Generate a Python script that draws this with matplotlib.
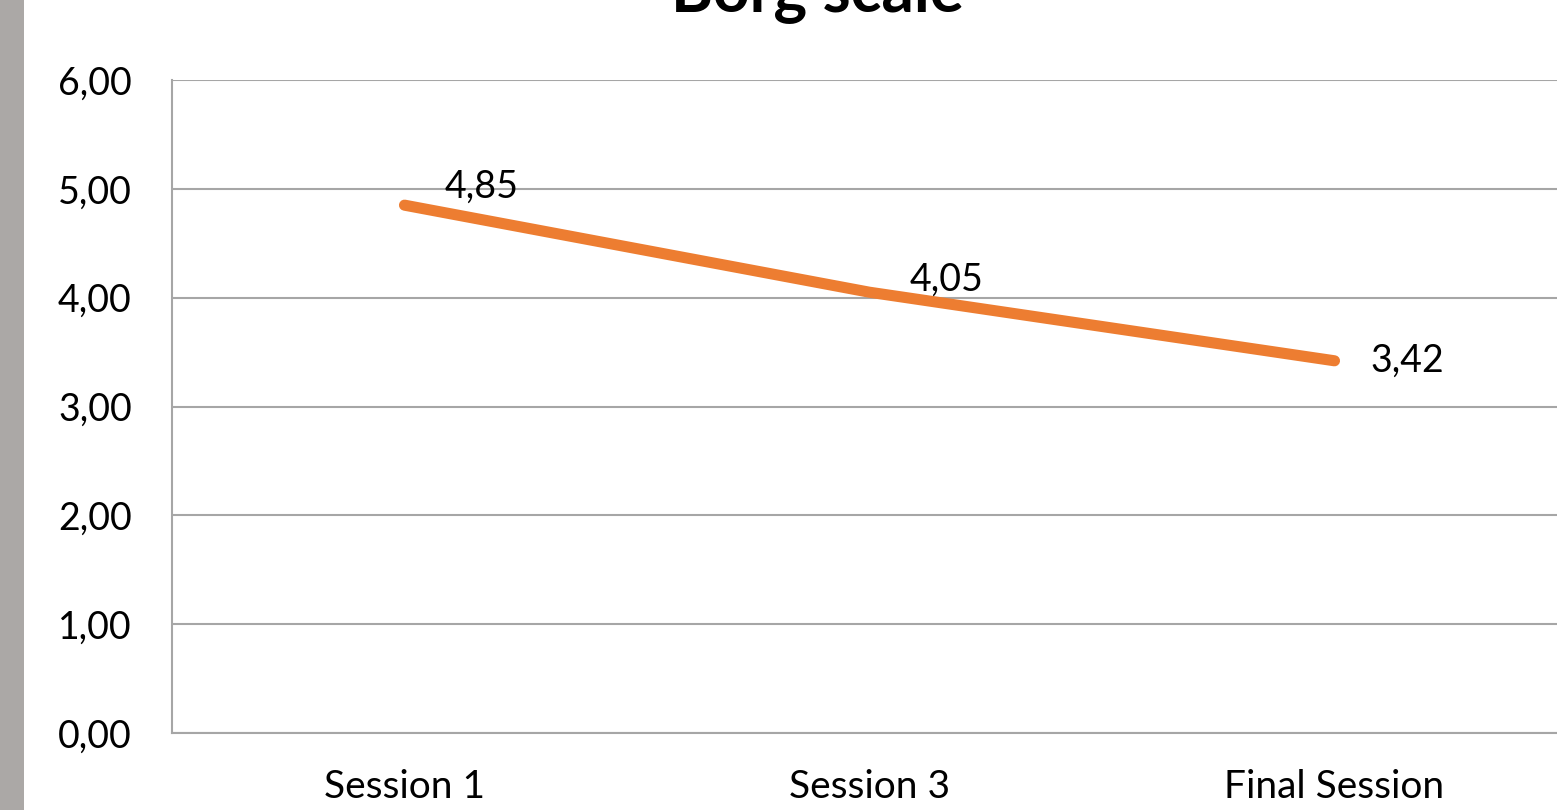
import matplotlib
matplotlib.use("Agg")
import matplotlib.pyplot as plt
from matplotlib.patches import Rectangle

categories = ["Session 1", "Session 3", "Final Session"]
values = [4.85, 4.05, 3.42]
yticks = [0, 1, 2, 3, 4, 5, 6]
title = "Borg scale"

plt.rcParams['font.family'] = ['Lato', 'DejaVu Sans']

W, H = 1557, 810
fig = plt.figure(figsize=(W / 100, H / 100), dpi=100)
fig.patch.set_facecolor("white")

# grey strip at the left edge
fig.add_artist(Rectangle((0, 0), 24 / W, 1, transform=fig.transFigure,
                         facecolor="#ABA8A6", edgecolor="none"))

left, right, top, bottom = 172, 1567, 80, 733
ax = fig.add_axes([left / W, 1 - bottom / H, (right - left) / W, (bottom - top) / H])
ax.set_xlim(-0.5, 2.5)
ax.set_ylim(0, 6)
ax.set_facecolor("white")

x = list(range(len(categories)))
ax.plot(x, values, color="#ED7D31", linewidth=8, solid_capstyle="round",
        solid_joinstyle="round", zorder=3)

label_offsets = [(40, 18), (40, 12), (36, 0)]
for xi, v, off in zip(x, values, label_offsets):
    ax.annotate(f"{v:.2f}".replace(".", ","), (xi, v), xytext=off,
                textcoords="offset pixels", ha="left", va="center",
                fontsize=27, color="black", zorder=4)

ax.set_yticks(yticks)
ax.set_yticklabels([f"{t:.2f}".replace(".", ",") for t in yticks], fontsize=27)
ax.set_xticks(x)
ax.set_xticklabels(categories, fontsize=28)
ax.tick_params(axis="both", length=0)
ax.tick_params(axis="y", pad=29)
ax.tick_params(axis="x", pad=26)
ax.grid(axis="y", color="#A6A6A6", linewidth=1.5, zorder=0)
ax.set_axisbelow(True)
for s in ["top", "right"]:
    ax.spines[s].set_visible(False)
for s in ["left", "bottom"]:
    ax.spines[s].set_color("#A6A6A6")
    ax.spines[s].set_linewidth(1.5)

fig.text(817 / W, 1 - 11 / H, title, ha="center", va="baseline",
         fontsize=46, fontweight="bold")

fig.savefig("out.png", dpi=100)
